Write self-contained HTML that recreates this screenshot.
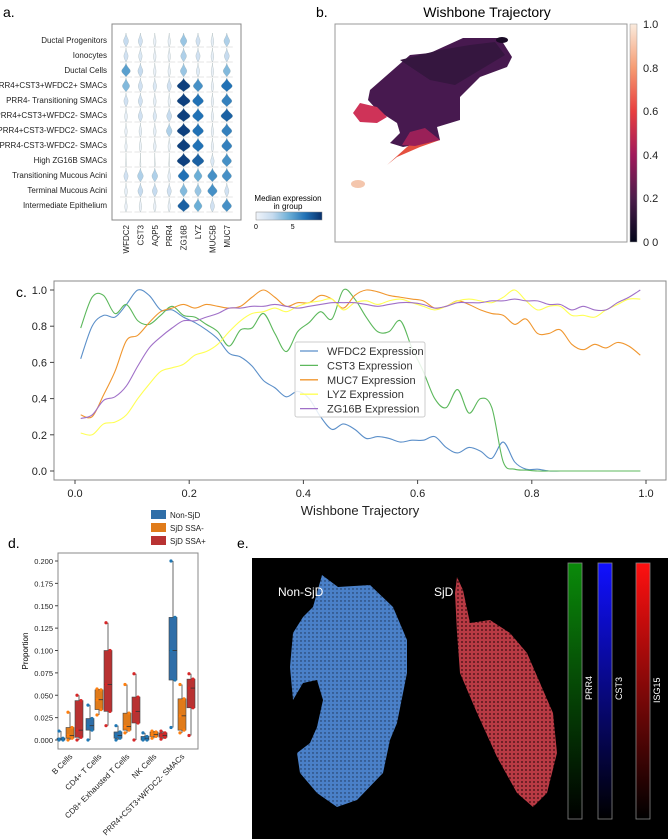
<!DOCTYPE html>
<html><head><meta charset="utf-8"><style>
body{margin:0;background:#fff;}
svg{display:block;font-family:"Liberation Sans",sans-serif;}
</style></head><body>
<svg id="fig" width="668" height="839" viewBox="0 0 668 839" xmlns="http://www.w3.org/2000/svg">
<text x="3" y="17" font-size="14">a.</text>
<text x="316" y="17" font-size="14">b.</text>
<text x="16" y="297" font-size="14">c.</text>
<text x="8" y="548" font-size="14">d.</text>
<text x="237" y="548" font-size="14">e.</text>

<g id="pa"></g>
<g id="pb">
 <defs>
  <linearGradient id="rocket" x1="0" y1="1" x2="0" y2="0">
   <stop offset="0" stop-color="#03051a"/><stop offset="0.2" stop-color="#4c1d4b"/>
   <stop offset="0.4" stop-color="#a11a5b"/><stop offset="0.6" stop-color="#e83f3f"/>
   <stop offset="0.8" stop-color="#f69c73"/><stop offset="1" stop-color="#faebdd"/>
  </linearGradient>
  <linearGradient id="gG" x1="0" y1="0" x2="0" y2="1"><stop offset="0" stop-color="#0a8a0a"/><stop offset="1" stop-color="#000"/></linearGradient>
  <linearGradient id="gB" x1="0" y1="0" x2="0" y2="1"><stop offset="0" stop-color="#1010ff"/><stop offset="1" stop-color="#000"/></linearGradient>
  <linearGradient id="gR" x1="0" y1="0" x2="0" y2="1"><stop offset="0" stop-color="#ff1010"/><stop offset="1" stop-color="#000"/></linearGradient>
  <pattern id="dotsB" width="4" height="4" patternUnits="userSpaceOnUse"><rect width="4" height="4" fill="#4a80c8"/><circle cx="1" cy="1" r="0.7" fill="#1c3050"/></pattern>
  <pattern id="dotsR" width="4" height="4" patternUnits="userSpaceOnUse"><rect width="4" height="4" fill="#b83a44"/><circle cx="2" cy="2" r="0.9" fill="#3a0c10"/></pattern>
 </defs>
 <text x="487" y="17" font-size="14" text-anchor="middle">Wishbone Trajectory</text>
 <rect x="335" y="24" width="292" height="218" fill="#fff" stroke="#999" stroke-width="1"/>
 <polygon points="370,90 410,55 430,53 463,38 500,38 512,57 507,67 480,77 460,97 460,120 437,127 440,140 403,147 390,143 400,133 397,123 377,110 368,100" fill="#47194f"/>
 <polygon points="400,60 440,50 470,45 495,42 505,55 480,70 455,85 430,80" fill="#35163f"/>
 <polygon points="353,113 360,103 377,107 387,117 377,123 360,122" fill="#cf3358"/>
 <polygon points="387,165 407,147 420,137 440,140 420,147 397,157" fill="#e4503f"/>
 <polygon points="402,145 410,132 425,128 440,140 415,146" fill="#9a2058"/>
 <ellipse cx="358" cy="184" rx="7" ry="4" fill="#f4c6ad"/>
 <ellipse cx="502" cy="40" rx="6" ry="3" fill="#1a0b25"/>
 <rect x="630" y="24" width="7" height="218" fill="url(#rocket)" stroke="#999" stroke-width="0.5"/>
 <g font-size="11" fill="#222">
  <text x="643" y="28">1.0</text><text x="643" y="72">0.8</text><text x="643" y="115">0.6</text><text x="643" y="159">0.4</text><text x="643" y="202">0.2</text><text x="643" y="246">0 0</text>
 </g>
</g>
<g id="pc"></g>
<g id="pd"></g>
<g id="pe">
 <rect x="252" y="558" width="416" height="281" fill="#000"/>
 <polygon points="322,575 338,587 370,585 393,607 407,640 407,673 397,723 390,740 383,773 357,800 337,807 317,793 300,773 297,753 310,743 317,727 323,700 317,680 303,683 293,700 290,667 293,633 303,617 313,607" fill="url(#dotsB)"/>
 <polygon points="457,577 463,590 470,623 490,620 510,633 527,653 540,683 553,713 557,753 547,793 533,807 517,793 497,757 477,713 460,673 457,633 455,593" fill="url(#dotsR)"/>
 <text x="278" y="596" font-size="12" fill="#fff">Non-SjD</text>
 <text x="434" y="596" font-size="12" fill="#fff">SjD</text>
 <rect x="568" y="563" width="14" height="256" fill="url(#gG)" stroke="#888" stroke-width="0.8"/>
 <rect x="598" y="563" width="14" height="256" fill="url(#gB)" stroke="#888" stroke-width="0.8"/>
 <rect x="636" y="563" width="14" height="256" fill="url(#gR)" stroke="#888" stroke-width="0.8"/>
 <text transform="translate(592,700) rotate(-90)" font-size="9" fill="#fff">PRR4</text>
 <text transform="translate(622,700) rotate(-90)" font-size="9" fill="#fff">CST3</text>
 <text transform="translate(660,703) rotate(-90)" font-size="9" fill="#fff">ISG15</text>
</g>
</svg>
<script>
// ---------- Panel a data ----------
const violinRows = ["Ductal Progenitors","Ionocytes","Ductal Cells","PRR4+CST3+WFDC2+ SMACs","PRR4- Transitioning SMACs","PRR4+CST3+WFDC2- SMACs","PRR4+CST3-WFDC2- SMACs","PRR4-CST3-WFDC2- SMACs","High ZG16B SMACs","Transitioning Mucous Acini","Terminal Mucous Acini","Intermediate Epithelium"];
const violinGenes = ["WFDC2","CST3","AQP5","PRR4","ZG16B","LYZ","MUC5B","MUC7"];
const violinMedian = [
 [2,1.5,0.3,0.3,3,1.5,0.5,2.5],
 [1.5,1,0.3,0.3,2.5,1.5,0.5,2],
 [4.5,2,0.3,0.3,3,0.8,0.3,3.5],
 [3.5,1.5,1,1.5,7.5,5,0.3,6],
 [1.5,1.5,0.5,0.2,7.5,6,0.3,5.5],
 [0.5,1.5,1,2,7.5,6,0.3,6.5],
 [0.3,0.5,0.5,2.5,7.5,6,0.3,5.5],
 [0.2,0.2,0.5,0.2,7.5,6,0.3,5.5],
 [0,0,0,0,7.5,6.5,1,5],
 [1.5,2.5,2.5,0.5,6,4,5,5],
 [0.5,2,2,1.5,3.5,3,5,1.5],
 [0.3,0.3,0.3,0.3,6.5,4,1.5,5]];
const colorbarTicksA = ["0","5"];

// ---------- Panel c data ----------
const trajX = [0.01,0.03,0.05,0.07,0.09,0.11,0.13,0.15,0.17,0.19,0.21,0.23,0.25,0.27,0.29,0.31,0.33,0.35,0.37,0.39,0.41,0.43,0.45,0.47,0.49,0.51,0.53,0.55,0.57,0.59,0.61,0.63,0.65,0.67,0.69,0.71,0.73,0.75,0.77,0.79,0.81,0.83,0.85,0.87,0.89,0.91,0.93,0.95,0.97,0.99];
const wfdc2 = [0.62,0.80,0.86,0.85,0.92,1.0,0.97,0.89,0.89,0.85,0.82,0.78,0.73,0.65,0.63,0.58,0.50,0.46,0.41,0.44,0.40,0.30,0.23,0.26,0.23,0.18,0.19,0.18,0.16,0.17,0.17,0.19,0.13,0.10,0.13,0.11,0.07,0.16,0.05,0.01,0.01,0,0,0,0,0,0,0,0,0];
const cst3 = [0.79,0.96,0.97,0.87,0.92,0.83,0.81,0.86,0.91,0.86,0.85,0.81,0.77,0.69,0.78,0.79,0.87,0.76,0.66,0.77,0.82,0.88,0.84,1.0,0.95,0.85,0.77,0.77,0.83,0.68,0.55,0.40,0.35,0.45,0.32,0.40,0.35,0.05,0.01,0.005,0,0,0,0,0,0,0,0,0,0];
const muc7 = [0.31,0.30,0.42,0.55,0.72,0.75,0.82,0.88,0.90,0.92,0.90,0.92,0.91,0.90,0.91,0.96,1.0,0.96,0.91,0.93,0.93,0.97,0.95,0.90,0.97,1.0,0.99,0.97,0.96,0.95,0.94,0.90,0.91,0.94,0.92,0.89,0.87,0.86,0.81,0.84,0.76,0.76,0.78,0.70,0.67,0.70,0.68,0.71,0.69,0.64];
const lyz = [0.21,0.20,0.26,0.27,0.31,0.40,0.48,0.55,0.57,0.59,0.64,0.66,0.70,0.77,0.83,0.87,0.88,0.90,0.88,0.91,0.93,0.94,0.95,0.89,0.93,0.94,0.92,0.94,0.95,0.93,0.91,0.89,0.91,0.94,0.95,0.94,0.93,0.96,1.0,0.94,0.89,0.91,0.91,0.86,0.86,0.85,0.89,0.92,0.95,0.95];
const zg16b = [0.29,0.31,0.39,0.41,0.47,0.58,0.68,0.74,0.79,0.83,0.83,0.85,0.87,0.90,0.90,0.91,0.91,0.92,0.91,0.90,0.91,0.92,0.93,0.93,0.93,0.92,0.91,0.92,0.93,0.93,0.92,0.90,0.91,0.93,0.93,0.93,0.94,0.94,0.95,0.94,0.94,0.92,0.92,0.89,0.91,0.89,0.89,0.93,0.96,1.0];
const seriesNames = ["WFDC2 Expression","CST3 Expression","MUC7 Expression","LYZ Expression","ZG16B Expression"];
const xTicksC = [0,0.2,0.4,0.6,0.8,1.0];
const yTicksC = [0,0.2,0.4,0.6,0.8,1.0];

// ---------- Panel d data ----------
const cellTypes = ["B Cells","CD4+ T Cells","CD8+ Exhausted T Cells","NK Cells","PRR4+CST3+WFDC2- SMACs"];
const groups = ["Non-SjD","SjD SSA-","SjD SSA+"];
const q1 = [[0,0.002,0.003],[0.011,0.034,0.032],[0.002,0.011,0.019],[0,0.004,0.003],[0.067,0.011,0.036]];
const med = [[0.001,0.005,0.011],[0.016,0.045,0.062],[0.005,0.015,0.032],[0.002,0.006,0.005],[0.1,0.027,0.058]];
const q3 = [[0.002,0.014,0.044],[0.024,0.056,0.1],[0.009,0.03,0.048],[0.004,0.009,0.008],[0.137,0.046,0.068]];
const wlo = [[0,0,0],[0,0.028,0.016],[0,0.008,0],[0,0.002,0.001],[0.014,0.008,0.005]];
const whi = [[0.01,0.031,0.05],[0.039,0.057,0.131],[0.016,0.062,0.074],[0.008,0.01,0.01],[0.2,0.062,0.074]];
const yTicksD = [0,0.025,0.05,0.075,0.1,0.125,0.15,0.175,0.2];

const NS="http://www.w3.org/2000/svg";
function mk(parent,tag,attrs,text){const e=document.createElementNS(NS,tag);for(const k in attrs)e.setAttribute(k,attrs[k]);if(text!==undefined)e.textContent=text;parent.appendChild(e);return e;}

// ===== Panel a =====
(function(){
 const g=document.getElementById('pa');
 const rowY=i=>40+i*15, colX=j=>126+j*14.4;
 const stops=[[0,[240,244,250]],[2,[198,219,239]],[4,[107,174,214]],[6,[33,113,181]],[8,[8,48,107]]];
 function blues(v){v=Math.max(0,Math.min(8,v));for(let i=1;i<stops.length;i++){if(v<=stops[i][0]){const a=stops[i-1],b=stops[i],t=(v-a[0])/(b[0]-a[0]);return 'rgb('+a[1].map((c,k)=>Math.round(c+(b[1][k]-c)*t)).join(',')+')';}}return 'rgb(8,48,107)';}
 const fr=mk(g,'rect',{x:112,y:24,width:129,height:196,fill:'#fff',stroke:'#888','stroke-width':1});
 
 
 violinRows.forEach((r,i)=>{
  const t=mk(g,'text',{x:107,y:rowY(i)+3,'font-size':8,'text-anchor':'end',fill:'#222'},r);
  
  
  violinGenes.forEach((gn,j)=>{
   const v=violinMedian[i][j],cx=colX(j),cy=rowY(i);
   const w=v<=0?0.3:Math.min(6.5,1+v*0.75);
   const d=`M${cx},${cy-7} C${cx+w*0.2},${cy-3} ${cx+w},${cy-1} ${cx+w},${cy+1} C${cx+w},${cy+3} ${cx+1},${cy+5} ${cx},${cy+7} C${cx-1},${cy+5} ${cx-w},${cy+3} ${cx-w},${cy+1} C${cx-w},${cy-1} ${cx-w*0.2},${cy-3} ${cx},${cy-7} Z`;
   const p=mk(g,'path',{d:d,fill:blues(v),stroke:'#9aa',"stroke-width":0.3});
   
   
   const l=mk(g,'line',{x1:cx-6,x2:cx+6,y1:cy+7,y2:cy+7,stroke:'#ccc','stroke-width':0.5});
   
   
  });
 });
 violinGenes.forEach((gn,j)=>{
  const t=mk(g,'text',{transform:`translate(${colX(j)+3},225) rotate(-90)`,'font-size':8,'text-anchor':'end',fill:'#222'},gn);
  
  
 });
 const defs=mk(g,'defs',{});
 const lg=mk(defs,'linearGradient',{id:'bluesg',x1:0,x2:1,y1:0,y2:0});
 [0,2,4,6,8].forEach(v=>mk(lg,'stop',{offset:v/8,'stop-color':blues(v)}));
 const t1=mk(g,'text',{x:288,y:201,'font-size':8,'text-anchor':'middle'},'Median expression');
 
 
 const t2=mk(g,'text',{x:288,y:209,'font-size':8,'text-anchor':'middle'},'in group');
 
 
 const cb=mk(g,'rect',{x:256,y:212,width:66,height:8,fill:'url(#bluesg)',stroke:'#888','stroke-width':0.5});
 
 
 colorbarTicksA.forEach(tk=>{
  const x=256+(+tk)/9*66;
  const t=mk(g,'text',{x:x,y:229,'font-size':7,'text-anchor':'middle'},tk);
  
  
 });
})();

// ===== Panel c =====
(function(){
 const g=document.getElementById('pc');
 const X=v=>75+v*(646-75), Y=v=>471-v*(471-290);
 const fr=mk(g,'rect',{x:54,y:281,width:612,height:199,fill:'none',stroke:'#888','stroke-width':1});
 
 
 xTicksC.forEach(v=>{
  const l=mk(g,'line',{x1:X(v),x2:X(v),y1:480,y2:484,stroke:'#444'});
  
  
  const t=mk(g,'text',{x:X(v),y:497,'font-size':11,'text-anchor':'middle',fill:'#222'},v.toFixed(1));
  
  
 });
 yTicksC.forEach(v=>{
  const l=mk(g,'line',{x1:50,x2:54,y1:Y(v),y2:Y(v),stroke:'#444'});
  
  
  const t=mk(g,'text',{x:47,y:Y(v)+4,'font-size':11,'text-anchor':'end',fill:'#222'},v.toFixed(1));
  
  
 });
 const xl=mk(g,'text',{x:360,y:515,'font-size':13,'text-anchor':'middle',fill:'#222'},'Wishbone Trajectory');
 
 
 const data=[wfdc2,cst3,muc7,lyz,zg16b];
 const cols=['#5b8fc9','#5cb85c','#f0962e','#ffff55','#a070c8'];
 function smooth(pts){let d=`M${pts[0][0]},${pts[0][1]}`;for(let i=0;i<pts.length-1;i++){const p0=pts[i-1]||pts[i],p1=pts[i],p2=pts[i+1],p3=pts[i+2]||p2;d+=` C${p1[0]+(p2[0]-p0[0])/6},${p1[1]+(p2[1]-p0[1])/6} ${p2[0]-(p3[0]-p1[0])/6},${p2[1]-(p3[1]-p1[1])/6} ${p2[0]},${p2[1]}`;}return d;}
 data.forEach((s,k)=>{
  const pts=trajX.map((x,i)=>[X(x),Y(s[i])]);
  const p=mk(g,'path',{d:smooth(pts),fill:'none',stroke:cols[k],'stroke-width':1.1});
  
  
 });
 const lb=mk(g,'rect',{x:295,y:342,width:130,height:75,fill:'#fff','fill-opacity':0.85,stroke:'#ccc',rx:2});
 
 
 seriesNames.forEach((n,k)=>{
  const y=351+k*14.4;
  const l=mk(g,'line',{x1:300,x2:318,y1:y,y2:y,stroke:cols[k],'stroke-width':1.3});
  
  
  const t=mk(g,'text',{x:327,y:y+4,'font-size':11,fill:'#333'},n);
  
  
 });
})();

// ===== Panel d =====
(function(){
 const g=document.getElementById('pd');
 const Y=v=>740-v/0.2*(740-561);
 const gx=[70,99,127,154,182], off=[-9,0,9];
 const cols=['#1f77b4','#ff7f0e','#d62728'], fills=['#2f6ea8','#e07b1a','#b83232'];
 groups.forEach((n,k)=>{
  const y=515+k*13;
  const r=mk(g,'rect',{x:151,y:y-5,width:15,height:9,fill:fills[k]});
  
  
  const t=mk(g,'text',{x:170,y:y+3,'font-size':8,fill:'#222'},n);
  
  
 });
 const fr=mk(g,'rect',{x:58,y:553,width:140,height:196,fill:'none',stroke:'#888','stroke-width':1});
 
 
 yTicksD.forEach(v=>{
  const t=mk(g,'text',{x:53,y:Y(v)+3,'font-size':7.5,'text-anchor':'end',fill:'#222'},v.toFixed(3));
  
  
  const l=mk(g,'line',{x1:55,x2:58,y1:Y(v),y2:Y(v),stroke:'#444'});
  
  
 });
 const yl=mk(g,'text',{transform:'translate(28,651) rotate(-90)','font-size':8,'text-anchor':'middle'},'Proportion');
 
 
 cellTypes.forEach((c,i)=>{
  const t=mk(g,'text',{transform:`translate(${gx[i]+3},757) rotate(-45)`,'font-size':8,'text-anchor':'end',fill:'#222'},c);
  
  
  groups.forEach((gn,k)=>{
   const cx=gx[i]+off[k];
   const w=mk(g,'line',{x1:cx,x2:cx,y1:Y(wlo[i][k]),y2:Y(whi[i][k]),stroke:'#444','stroke-width':0.8});
   
   
   const b=mk(g,'rect',{x:cx-4,y:Y(q3[i][k]),width:8,height:Math.max(0.5,Y(q1[i][k])-Y(q3[i][k])),fill:fills[k],stroke:'#444','stroke-width':0.6});
   
   
   const m=mk(g,'line',{x1:cx-4,x2:cx+4,y1:Y(med[i][k]),y2:Y(med[i][k]),stroke:'#333','stroke-width':0.8});
   
   
   [wlo[i][k],q1[i][k],med[i][k],q3[i][k],whi[i][k]].forEach((v,j)=>{
    const d=mk(g,'circle',{cx:cx+(j%2?2:-2),cy:Y(v),r:1.6,fill:cols[k]});
    
    
   });
  });
 });
})();
</script>
</body></html>
